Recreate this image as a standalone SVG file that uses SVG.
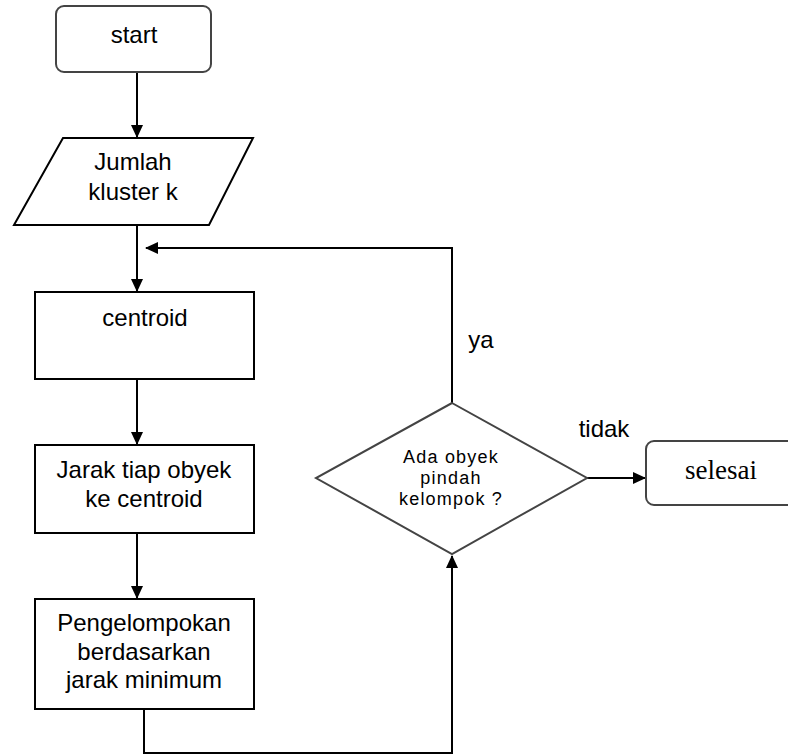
<svg xmlns="http://www.w3.org/2000/svg" width="788" height="755" viewBox="0 0 788 755">
<defs>
<marker id="arr" markerWidth="13" markerHeight="12" refX="12" refY="6" orient="auto" markerUnits="userSpaceOnUse">
<path d="M0,0 L13,6 L0,12 Z" fill="#000"/>
</marker>
<style>
.shape{fill:#fff;stroke:#000;stroke-width:2}
.term{fill:#fff;stroke:#444;stroke-width:2}
.edge{fill:none;stroke:#000;stroke-width:2}
.t{font-family:"Liberation Sans",Arial,sans-serif;font-size:24px;fill:#000;text-anchor:middle}
.ts{font-family:"Liberation Sans",Arial,sans-serif;font-size:18px;letter-spacing:1.2px;fill:#000;text-anchor:middle}
.serif{font-family:"Liberation Serif","Times New Roman",serif;font-size:27px;fill:#000;text-anchor:middle}
</style>
</defs>
<rect width="788" height="755" fill="#fff"/>
<g id="connectors">
<path class="edge" d="M137,73 V137" marker-end="url(#arr)"/>
<path class="edge" d="M137,226 V291" marker-end="url(#arr)"/>
<path class="edge" d="M452,403 V248 H146" marker-end="url(#arr)"/>
<path class="edge" d="M137,379 V444" marker-end="url(#arr)"/>
<path class="edge" d="M137,533 V598" marker-end="url(#arr)"/>
<path class="edge" d="M144,709 V753 H452 V556" marker-end="url(#arr)"/>
<path class="edge" d="M587,478 H645" marker-end="url(#arr)"/>
</g>
<g id="start">
<rect class="term" x="56" y="6" width="155" height="66" rx="8"/>
<text class="t" x="134" y="43">start</text>
</g>
<g id="input">
<polygon class="shape" points="63,138 253,138 209,225 14,225"/>
<text class="t" x="133" y="170">Jumlah</text>
<text class="t" x="133" y="200">kluster k</text>
</g>
<g id="centroid">
<rect class="shape" x="35" y="292" width="219" height="87"/>
<text class="t" x="145" y="326">centroid</text>
</g>
<g id="jarak">
<rect class="shape" x="35" y="445" width="219" height="88"/>
<text class="t" x="144" y="478">Jarak tiap obyek</text>
<text class="t" x="144" y="507">ke centroid</text>
</g>
<g id="pengelompokan">
<rect class="shape" x="35" y="599" width="219" height="110"/>
<text class="t" x="144" y="631">Pengelompokan</text>
<text class="t" x="144" y="660">berdasarkan</text>
<text class="t" x="144" y="688">jarak minimum</text>
</g>
<g id="decision">
<polygon class="term" points="452,403 587,478 452,554 316,478"/>
<text class="ts" x="451" y="463">Ada obyek</text>
<text class="ts" x="451" y="484">pindah</text>
<text class="ts" x="451" y="505">kelompok ?</text>
</g>
<g id="selesai">
<rect class="term" x="646" y="441" width="150" height="64" rx="8"/>
<text class="serif" x="721" y="479">selesai</text>
</g>
<g id="labels">
<text class="t" x="481" y="348">ya</text>
<text class="t" x="604" y="437">tidak</text>
</g>
</svg>
